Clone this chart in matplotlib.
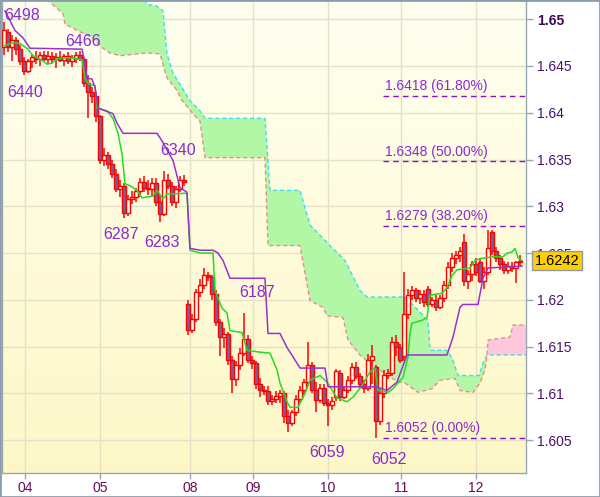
import matplotlib
matplotlib.use("Agg")
import matplotlib.pyplot as plt
import matplotlib.transforms as mtransforms
from matplotlib.patches import Rectangle
import numpy as np

plt.rcParams['font.family'] = ['Liberation Sans', 'DejaVu Sans']

# candles, prices in pips (6498 -> 1.6498)
opens = [6470, 6486, 6470, 6478, 6468, 6455, 6445, 6455, 6460, 6457,
         6462, 6458, 6461, 6457, 6460, 6456, 6461, 6455, 6459, 6462,
         6458, 6432, 6422, 6418, 6396, 6350, 6355, 6345, 6334, 6318,
         6322, 6293, 6308, 6310, 6316, 6326, 6320, 6318, 6325, 6305,
         6292, 6328, 6322, 6305, 6318, 6328, 6196, 6168, 6180, 6208,
         6216, 6226, 6224, 6206, 6176, 6160, 6163, 6136, 6115, 6130,
         6143, 6158, 6136, 6132, 6110, 6104, 6102, 6092, 6094, 6097,
         6100, 6076, 6068, 6080, 6094, 6104, 6112, 6130, 6104, 6093,
         6106, 6090, 6087, 6096, 6122, 6096, 6104, 6114, 6128, 6118,
         6110, 6106, 6136, 6128, 6070, 6100, 6120, 6122, 6155, 6150,
         6140, 6185, 6205, 6210, 6202, 6206, 6212, 6195, 6200, 6192,
         6202, 6216, 6235, 6245, 6248, 6262, 6220, 6228, 6238, 6240,
         6220, 6230, 6272, 6252, 6245, 6238, 6232, 6236, 6234, 6240]
highs = [6497, 6490, 6483, 6481, 6472, 6460, 6458, 6463, 6466, 6465,
         6466, 6466, 6465, 6464, 6466, 6463, 6465, 6462, 6465, 6466,
         6460, 6440, 6428, 6422, 6398, 6362, 6358, 6350, 6340, 6328,
         6325, 6312, 6316, 6320, 6330, 6332, 6328, 6330, 6330, 6312,
         6338, 6335, 6326, 6322, 6332, 6333, 6200, 6185, 6212, 6222,
         6234, 6230, 6227, 6210, 6180, 6170, 6166, 6140, 6135, 6148,
         6186, 6162, 6140, 6135, 6116, 6108, 6108, 6098, 6102, 6104,
         6102, 6082, 6082, 6098, 6108, 6115, 6155, 6134, 6112, 6110,
         6110, 6094, 6096, 6126, 6125, 6108, 6118, 6132, 6134, 6122,
         6114, 6142, 6152, 6130, 6105, 6125, 6126, 6160, 6162, 6153,
         6230, 6212, 6215, 6213, 6210, 6210, 6215, 6203, 6205, 6205,
         6220, 6240, 6250, 6252, 6256, 6270, 6232, 6242, 6245, 6244,
         6235, 6275, 6275, 6256, 6248, 6242, 6240, 6240, 6242, 6248]
lows = [6462, 6465, 6455, 6462, 6451, 6440, 6442, 6448, 6452, 6450,
        6455, 6452, 6453, 6448, 6454, 6450, 6452, 6449, 6453, 6455,
        6428, 6394, 6410, 6390, 6345, 6343, 6340, 6330, 6315, 6310,
        6287, 6290, 6302, 6305, 6310, 6315, 6312, 6310, 6300, 6283,
        6290, 6318, 6300, 6298, 6315, 6322, 6162, 6165, 6176, 6203,
        6212, 6220, 6200, 6172, 6140, 6148, 6130, 6100, 6108, 6125,
        6140, 6132, 6126, 6105, 6096, 6098, 6088, 6087, 6090, 6090,
        6068, 6059, 6065, 6076, 6090, 6098, 6108, 6100, 6080, 6090,
        6086, 6065, 6082, 6092, 6092, 6094, 6100, 6110, 6115, 6106,
        6100, 6102, 6110, 6052, 6066, 6095, 6115, 6118, 6140, 6132,
        6135, 6180, 6200, 6198, 6196, 6192, 6192, 6192, 6188, 6190,
        6198, 6212, 6230, 6238, 6240, 6215, 6212, 6220, 6225, 6218,
        6212, 6226, 6248, 6240, 6232, 6228, 6228, 6230, 6218, 6236]
closes = [6488, 6470, 6478, 6468, 6455, 6445, 6455, 6460, 6457, 6462,
          6458, 6461, 6457, 6460, 6456, 6461, 6455, 6459, 6462, 6458,
          6432, 6422, 6418, 6396, 6350, 6355, 6345, 6334, 6318, 6322,
          6293, 6308, 6310, 6316, 6326, 6320, 6318, 6325, 6305, 6292,
          6328, 6322, 6305, 6318, 6328, 6326, 6168, 6180, 6208, 6216,
          6226, 6224, 6206, 6176, 6160, 6163, 6136, 6115, 6130, 6143,
          6158, 6136, 6132, 6110, 6104, 6102, 6092, 6094, 6097, 6100,
          6076, 6068, 6080, 6094, 6104, 6112, 6130, 6104, 6093, 6106,
          6090, 6087, 6092, 6124, 6096, 6104, 6114, 6128, 6118, 6110,
          6106, 6136, 6140, 6070, 6100, 6120, 6122, 6155, 6150, 6136,
          6185, 6205, 6210, 6202, 6206, 6198, 6195, 6200, 6192, 6202,
          6216, 6235, 6245, 6248, 6252, 6220, 6228, 6238, 6230, 6220,
          6230, 6255, 6252, 6245, 6238, 6232, 6236, 6234, 6240, 6242]

# tenkan (green) and kijun (purple), (candle index, pips)
tenkan_x = [0, 2.75, 4, 6, 7.25, 9.5, 10.75, 12, 13.5, 15.75, 19.5, 20.25, 21, 22.75,
            23.25, 25.75, 27.25, 28.5, 29.5, 30.25, 31.5, 33.25, 34.5, 37.25, 38.25,
            39.75, 40.75, 45.75, 46.5, 49, 52.25, 52.75, 54.5, 55.75, 56.5, 59.5,
            60.75, 64, 66.5, 68.25, 69, 70.75, 71.5, 73.5, 75.25, 76.5, 79, 80.75,
            83.25, 85.75, 87.25, 89.5, 91.5, 92.75, 93.5, 96, 97.25, 99.75, 101,
            101.5, 102, 104.5, 105.75, 106.5, 109.5, 110.75, 112, 113.25, 116.5,
            117.75, 119, 122.25, 124.75, 125.75, 127, 127.75, 128.5, 129.5]
tenkan_y = [6472, 6475, 6474, 6468, 6461, 6456, 6452, 6453, 6458, 6459, 6457, 6437, 6431, 6429,
            6405, 6402, 6394, 6378, 6356, 6324, 6322, 6317, 6309, 6311, 6317,
            6308, 6313, 6314, 6253, 6250, 6250, 6210, 6191, 6186, 6167, 6165,
            6146, 6144, 6143, 6125, 6111, 6091, 6085, 6085, 6100, 6114, 6119, 6112,
            6095, 6091, 6096, 6108, 6123, 6127, 6103, 6101, 6105, 6117, 6139,
            6164, 6175, 6178, 6181, 6205, 6207, 6213, 6226, 6232, 6234,
            6242, 6244, 6246, 6246, 6250, 6251, 6255, 6245, 6242]
kijun_x = [0.25, 2.75, 4.75, 6.5, 19.5, 19.75, 20.75, 22, 22.75, 23.5, 27.25, 28.25, 29.75,
           38.25, 39.5, 42.25, 44, 45.75, 46.5, 49, 52.25, 53.5, 54.75, 56.5, 65.25,
           66, 69, 70.75, 72.25, 74, 80.25, 81, 93.25, 95.75, 98.25, 100.75, 110.75,
           112.25, 114, 114.75, 118.5, 119.75, 121, 129.5]
kijun_y = [6509, 6488, 6480, 6469, 6468, 6463, 6437, 6436, 6427, 6405, 6399, 6389, 6378,
           6378, 6370, 6349, 6320, 6315, 6255, 6253, 6253, 6250, 6242, 6223, 6223,
           6164, 6164, 6149, 6139, 6127, 6127, 6107, 6107, 6103, 6112, 6141, 6141,
           6160, 6192, 6195, 6195, 6223, 6234, 6236]

# ichimoku cloud edges (candle index, pips)
span_a_x = [9, 34, 35.75, 38.25, 39.75, 40.75, 42.25, 44.5, 46.5, 49, 50.25, 65.25, 66.5,
            74, 76.5, 81.5, 85.25, 89, 90.75, 100.25, 106, 106.5, 110.75, 112, 113.5,
            118.75, 119.75, 120.75, 121, 130.5]
span_a_y = [6560, 6535, 6516, 6514, 6509, 6463, 6442, 6427, 6413, 6402, 6394, 6394, 6317,
            6317, 6280, 6258, 6242, 6210, 6203, 6203, 6178, 6146, 6146, 6138, 6119,
            6119, 6132, 6141, 6141, 6141]
span_b_x = [9, 11, 14.75, 15.25, 18.25, 22.25, 24.75, 26.5, 29, 35.75, 39, 40.75, 43.25,
            44.5, 47.25, 49, 50.25, 65.25, 66, 74, 76.5, 79.75, 80.75, 84.75, 86, 89,
            91.5, 93.25, 94.5, 96.5, 99, 100.25, 103.5, 107, 109, 112.75, 114, 117.25,
            119, 120.25, 120.75, 121, 126.5, 127.25, 130.5]
span_b_y = [6535, 6520, 6506, 6495, 6488, 6480, 6469, 6464, 6461, 6464, 6463, 6437, 6424,
            6413, 6399, 6391, 6352, 6352, 6258, 6258, 6199, 6192, 6183, 6181, 6157, 6141,
            6132, 6128, 6123, 6117, 6112, 6111, 6101, 6105, 6114, 6116, 6103, 6101,
            6111, 6125, 6141, 6157, 6160, 6173, 6173]
cross_x = 120.75

# fibonacci levels
fib_prices = [1.6418, 1.6348, 1.6279, 1.6052]
fib_labels = ['1.6418 (61.80%)', '1.6348 (50.00%)', '1.6279 (38.20%)', '1.6052 (0.00%)']
fib_start = 94.75

# swing labels
swing_text = ['6498', '6466', '6440', '6340', '6287', '6283', '6187', '6059', '6052']
swing_x = [4.5, 19.75, 5.25, 43.5, 29.25, 39.5, 63.25, 80.75, 96.25]
swing_y = [6504, 6476, 6422, 6360, 6270, 6261, 6208, 6037, 6029]

day_ticks = [5.25, 24, 46.5, 62.25, 81, 99.25, 118]
day_labels = ['04', '05', '08', '09', '10', '11', '12']
y_ticks = [1.605, 1.61, 1.615, 1.62, 1.625, 1.63, 1.635, 1.64, 1.645, 1.65]
last_price = 1.6242


def px(p):
    return 1 + np.asarray(p, dtype=float) / 10000.0


fig = plt.figure(figsize=(6, 4.97), dpi=100)
ax = fig.add_axes([2 / 600, 24 / 497, 524 / 600, 472 / 497])
xmin, xmax = -0.5, 130.5
ymin, ymax = 1.60148, 1.65195
ax.set_xlim(xmin, xmax)
ax.set_ylim(ymin, ymax)

# background gradient
grad = np.linspace(0, 1, 256).reshape(-1, 1)
top = np.array([1.0, 1.0, 0.945])
bot = np.array([0.995, 0.972, 0.78])
img = top + (bot - top) * grad[:, :, None]
ax.imshow(img, extent=[xmin, xmax, ymin, ymax], aspect='auto', origin='upper', zorder=0)

ax.grid(True, color='#e2e2c6', lw=1, zorder=1)
ax.set_axisbelow(True)

# cloud
ax_ = np.array(span_a_x)
ay_ = px(span_a_y)
bx_ = np.array(span_b_x)
by_ = px(span_b_y)
ga = ax_ <= cross_x
gb = bx_ <= cross_x
ax.fill(np.concatenate([ax_[ga], bx_[gb][::-1]]), np.concatenate([ay_[ga], by_[gb][::-1]]),
        color='#b2f7a6', lw=0, zorder=2)
pa = ax_ >= cross_x
pb = bx_ >= cross_x
ax.fill(np.concatenate([bx_[pb], ax_[pa][::-1]]), np.concatenate([by_[pb], ay_[pa][::-1]]),
        color='#fdc8dc', lw=0, zorder=2)
ax.plot(ax_, ay_, color='#3fdcf0', lw=1, ls=(0, (3, 2)), zorder=3)
ax.plot(bx_, by_, color='#f08a8a', lw=1, ls=(0, (3, 2)), zorder=3)

# candles
for i in range(len(opens)):
    o, h, l, c = px(opens[i]), px(highs[i]), px(lows[i]), px(closes[i])
    ax.vlines(i, l, h, color='#ff0000', lw=1.1, zorder=4)
    bear = c < o
    ax.add_patch(Rectangle((i - 0.4, min(o, c)), 0.8, max(abs(c - o), 0.00003),
                           facecolor='#7e5c9c' if bear else '#fffde8',
                           edgecolor='#ff0000', lw=1.0, zorder=5))

ax.plot(tenkan_x, px(tenkan_y), color='#22dd22', lw=1.1, zorder=6)
ax.plot(kijun_x, px(kijun_y), color='#9a30d0', lw=1.1, zorder=6)

# fibonacci
for p, lab in zip(fib_prices, fib_labels):
    ax.plot([fib_start, xmax], [p, p], color='#8a10c8', lw=1, ls=(0, (4, 3)), zorder=7)
    ax.text(fib_start + 0.5, p + 0.0003, lab, color='#8a2ad0', fontsize=10,
            ha='left', va='bottom', zorder=8)

for t, x, y in zip(swing_text, swing_x, swing_y):
    ax.text(x, px(y), t, color='#8a2ad0', fontsize=11.5, ha='center', va='center', zorder=8)

# axes
ax.yaxis.tick_right()
ax.set_yticks(y_ticks)
ax.set_yticklabels(['%g' % v for v in y_ticks])
ax.tick_params(axis='y', colors='#9aa6b2', length=5, width=1, pad=3, labelsize=10,
               labelcolor='#4a1070')
for lab in ax.get_yticklabels():
    if lab.get_text() == '1.65':
        lab.set_fontweight('bold')
        lab.set_color('#3c0a50')
ax.set_xticks(day_ticks)
ax.set_xticklabels(day_labels)
ax.tick_params(axis='x', colors='#9aa6b2', length=4, width=1, pad=2, labelsize=10,
               labelcolor='#6a0a58')
for s in ['left', 'right', 'bottom']:
    ax.spines[s].set_color('#9aa6b2')
    ax.spines[s].set_linewidth(1)
ax.spines['top'].set_visible(False)

# last price tag
trans = mtransforms.blended_transform_factory(ax.transAxes, ax.transData)
ax.text(1.016, last_price, '%.4f' % last_price, transform=trans, fontsize=10.5,
        color='black', ha='left', va='center', zorder=10,
        bbox=dict(boxstyle='square,pad=0.18', facecolor='#ffd000', edgecolor='#909aa4', lw=1))

fig.patches.append(Rectangle((0, 0), 1, 1, transform=fig.transFigure, fill=False,
                             edgecolor='#8c9cac', lw=2))

fig.savefig('out.png', dpi=100)
